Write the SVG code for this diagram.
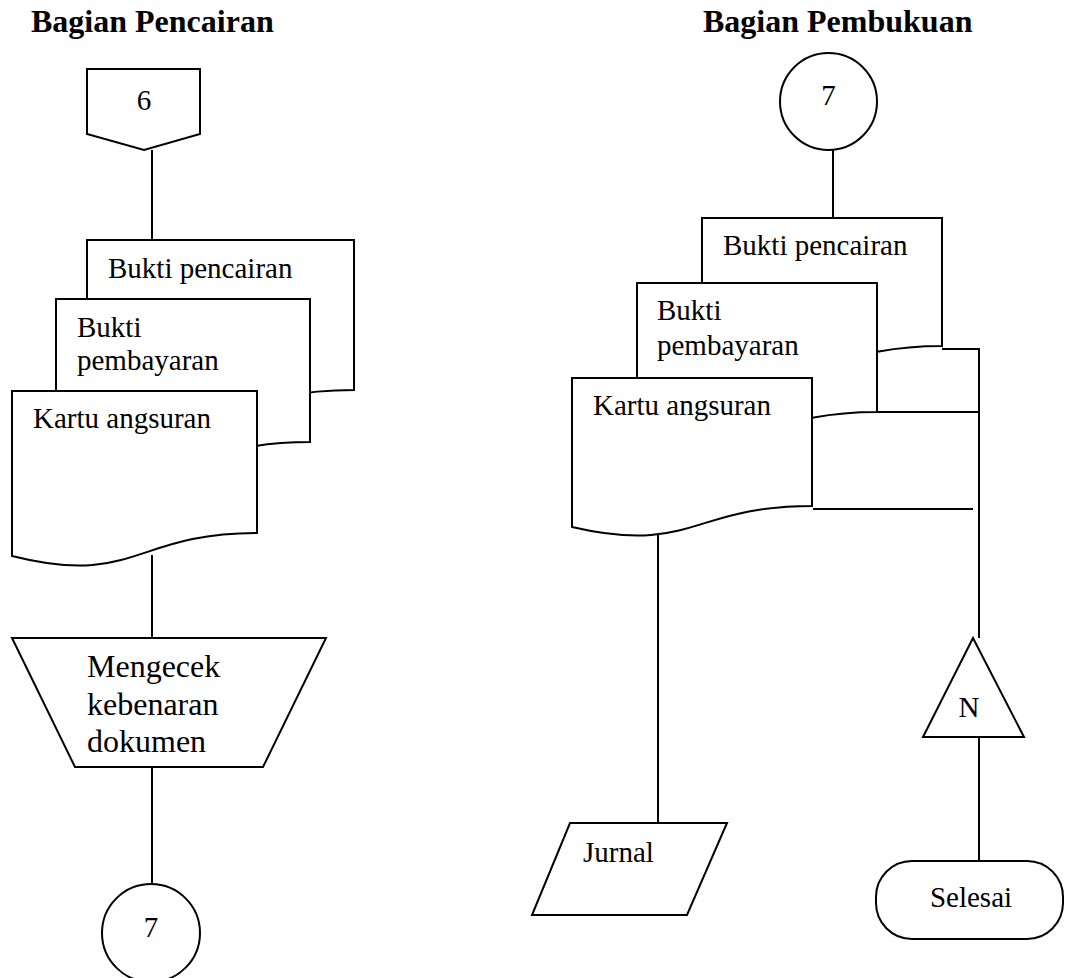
<svg xmlns="http://www.w3.org/2000/svg" width="1067" height="978" viewBox="0 0 1067 978">
<style>
.s{fill:#fff;stroke:#000;stroke-width:2;stroke-linejoin:miter}
.c{fill:none;stroke:#000;stroke-width:2}
text{font-family:"Liberation Serif","Times New Roman",serif;font-size:29px;fill:#000}
.t{font-weight:bold;font-size:32px}
.m{text-anchor:middle}
.b{font-size:32px}
</style>
<rect width="1067" height="978" fill="#fff"/>
<g id="titles">
<text class="t" x="31" y="32">Bagian Pencairan</text>
<text class="t" x="703" y="32">Bagian Pembukuan</text>
</g>
<g id="connectors">
<line class="c" x1="152" y1="150" x2="152" y2="240"/>
<line class="c" x1="152" y1="555" x2="152" y2="638"/>
<line class="c" x1="152" y1="767" x2="152" y2="884"/>
<line class="c" x1="833" y1="150" x2="833" y2="218"/>
<line class="c" x1="658" y1="525" x2="658" y2="823"/>
<polyline class="c" points="942,349 979,349 979,638"/>
<line class="c" x1="877" y1="412" x2="979" y2="412"/>
<line class="c" x1="813" y1="509" x2="973" y2="509"/>
<line class="c" x1="979" y1="737" x2="979" y2="861"/>
</g>
<g id="offpage6">
<path class="s" d="M87,69 H200 V134 L144,150 L87,134 Z"/>
<text class="m" x="144" y="110">6</text>
</g>
<g id="docL1">
<path class="s" d="M87,240 H354 V390 C220.5,390 220.5,447 87,415 Z"/>
<text x="108" y="278">Bukti pencairan</text>
</g>
<g id="docL2">
<path class="s" d="M56,299 H310 V442 C183,442 183,496 56,465 Z"/>
<text x="77" y="337">Bukti</text>
<text x="77" y="370">pembayaran</text>
</g>
<g id="docL3">
<path class="s" d="M12,391 H257 V533 C134.5,533 134.5,587 12,556 Z"/>
<text x="33" y="428">Kartu angsuran</text>
</g>
<g id="manual">
<path class="s" d="M12,638 H326 L263,767 H75 Z"/>
<text class="b" x="87" y="677">Mengecek</text>
<text class="b" x="87" y="715">kebenaran</text>
<text class="b" x="87" y="752">dokumen</text>
</g>
<g id="circleL7">
<circle class="s" cx="151" cy="933" r="49"/>
<text class="m" x="151" y="937">7</text>
</g>
<g id="circleR7">
<circle class="s" cx="828.5" cy="101.5" r="48.5"/>
<text class="m" x="828.5" y="105">7</text>
</g>
<g id="docR1">
<path class="s" d="M702,218 H942 V346 C822,346 822,395 702,367 Z"/>
<text x="723" y="255">Bukti pencairan</text>
</g>
<g id="docR2">
<path class="s" d="M637,283 H877 V412 C757,412 757,461 637,433 Z"/>
<text x="657" y="320">Bukti</text>
<text x="657" y="355">pembayaran</text>
</g>
<g id="docR3">
<path class="s" d="M572,378 H812 V506 C692,506 692,555 572,527 Z"/>
<text x="593" y="415">Kartu angsuran</text>
</g>
<g id="jurnal">
<path class="s" d="M570,823 H727 L687,915 H532 Z"/>
<text x="583" y="862">Jurnal</text>
</g>
<g id="arsip">
<path class="s" d="M973,638 L1024,737 H923 Z"/>
<text class="m" x="969" y="717">N</text>
</g>
<g id="selesai">
<rect class="s" x="876" y="861" width="187" height="78" rx="36" ry="36"/>
<text class="m" x="971" y="907">Selesai</text>
</g>
</svg>
